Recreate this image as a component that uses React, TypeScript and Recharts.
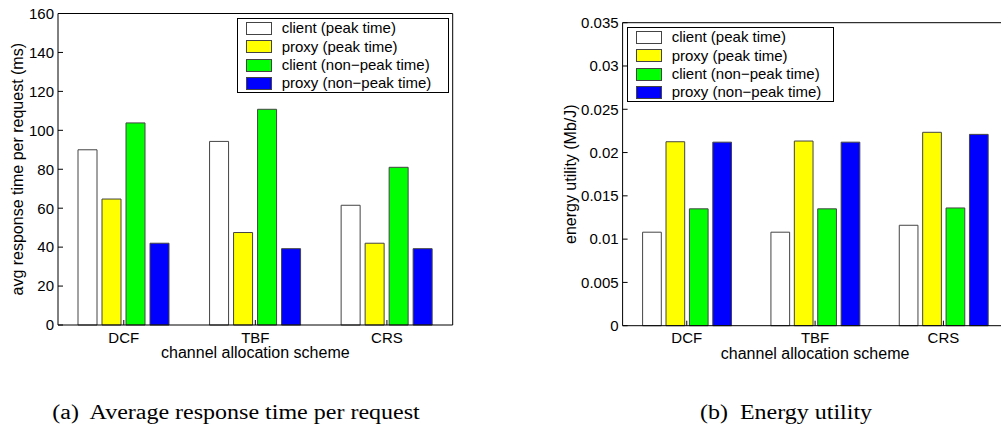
import { BarChart, Bar, XAxis, YAxis, Legend } from 'recharts'

const schemes = ['DCF', 'TBF', 'CRS']
const seriesNames = [
  'client (peak time)',
  'proxy (peak time)',
  'client (non\u2212peak time)',
  'proxy (non\u2212peak time)',
]
const seriesColors = ['#ffffff', '#ffff00', '#00ff00', '#0000ff']
const seriesKeys = ['clientPeak', 'proxyPeak', 'clientNonPeak', 'proxyNonPeak']

// (a) avg response time per request (ms)
const respClientPeak = [90, 94.3, 61.5]
const respProxyPeak = [64.7, 47.5, 42]
const respClientNonPeak = [103.8, 110.8, 81]
const respProxyNonPeak = [42, 39.2, 39.2]
const respTicks = [0, 20, 40, 60, 80, 100, 120, 140, 160]

// (b) energy utility (Mb/J)
const energyClientPeak = [0.0108, 0.0108, 0.0116]
const energyProxyPeak = [0.02125, 0.02133, 0.02234]
const energyClientNonPeak = [0.0135, 0.0135, 0.0136]
const energyProxyNonPeak = [0.0212, 0.0212, 0.0221]
const energyTicks = [0, 0.005, 0.01, 0.015, 0.02, 0.025, 0.03, 0.035]

const font = '"Liberation Sans", Arial, sans-serif'

function buildRows(values: number[][]) {
  return schemes.map((scheme, i) => {
    const row: Record<string, string | number> = { scheme }
    seriesKeys.forEach((k, j) => {
      row[k] = values[j][i]
    })
    return row
  })
}

const respData = buildRows([respClientPeak, respProxyPeak, respClientNonPeak, respProxyNonPeak])
const energyData = buildRows([energyClientPeak, energyProxyPeak, energyClientNonPeak, energyProxyNonPeak])

function LegendBox({ width }: { width: number }) {
  return (
    <div
      style={{
        width,
        height: 75,
        boxSizing: 'border-box',
        border: '1px solid #000',
        background: '#fff',
        fontFamily: font,
        fontSize: 15,
        color: '#000',
      }}
    >
      {seriesNames.map((name, i) => (
        <div key={name} style={{ display: 'flex', alignItems: 'center', height: 18.3 }}>
          <span
            style={{
              display: 'inline-block',
              width: 26,
              height: 13,
              marginLeft: 8,
              marginRight: 10,
              background: seriesColors[i],
              border: '1px solid #444',
              boxSizing: 'border-box',
            }}
          />
          <span style={{ whiteSpace: 'nowrap', lineHeight: '18px' }}>{name}</span>
        </div>
      ))}
    </div>
  )
}

interface PanelProps {
  data: Record<string, string | number>[]
  ticks: number[]
  yLabel: string
  width: number
  margin: { top: number; right: number; bottom: number; left: number }
  yAxisWidth: number
  labelOffset: number
  barSize: number
  barGap: number
  legendLeft: number
  legendTop: number
  legendWidth: number
}

function Panel(p: PanelProps) {
  const max = p.ticks[p.ticks.length - 1]
  return (
    <BarChart
      width={p.width}
      height={424}
      data={p.data}
      margin={p.margin}
      barSize={p.barSize}
      barGap={p.barGap}
      style={{ fontFamily: font }}
    >
      <XAxis
        dataKey="scheme"
        height={22}
        stroke="#000"
        tickSize={-5}
        tickMargin={12}
        tick={{ fill: '#000', fontSize: 15 }}
        label={{ value: 'channel allocation scheme', position: 'bottom', offset: 0, fill: '#000', fontSize: 16 }}
      />
      <XAxis xAxisId="top" dataKey="scheme" orientation="top" height={1} stroke="#000" tickSize={-5} tick={false} />
      <YAxis
        type="number"
        domain={[0, max]}
        ticks={p.ticks}
        width={p.yAxisWidth}
        stroke="#000"
        tickSize={-5}
        tickMargin={9}
        interval={0}
        tick={{ fill: '#000', fontSize: 15 }}
        label={{
          value: p.yLabel,
          angle: -90,
          position: 'insideLeft',
          offset: p.labelOffset,
          fill: '#000',
          fontSize: 16,
          style: { textAnchor: 'middle' },
        }}
      />
      <YAxis
        yAxisId="right"
        orientation="right"
        type="number"
        domain={[0, max]}
        ticks={p.ticks}
        width={1}
        stroke="#000"
        tickSize={-5}
        tick={false}
      />
      <Legend
        layout="vertical"
        align="center"
        verticalAlign="middle"
        content={() => <LegendBox width={p.legendWidth} />}
        wrapperStyle={{ left: p.legendLeft, top: p.legendTop, width: p.legendWidth }}
      />
      {seriesKeys.map((k, i) => (
        <Bar
          key={k}
          dataKey={k}
          name={seriesNames[i]}
          fill={seriesColors[i]}
          stroke="#444"
          strokeWidth={1}
          isAnimationActive={false}
        />
      ))}
    </BarChart>
  )
}

const captionStyle = {
  position: 'absolute' as const,
  top: 411.7,
  transform: 'translate(-50%, -50%) scaleX(1.2)',
  fontFamily: '"Liberation Serif", "Times New Roman", serif',
  fontSize: 20,
  whiteSpace: 'nowrap' as const,
  color: '#000',
}

export default function App() {
  return (
    <div
      style={{
        position: 'absolute',
        left: 0,
        top: 0,
        width: 1001,
        height: 424,
        overflow: 'hidden',
        background: '#fff',
      }}
    >
      <div style={{ position: 'absolute', left: 0, top: 0 }}>
        <Panel
          data={respData}
          ticks={respTicks}
          yLabel="avg response time per request (ms)"
          width={480}
          margin={{ top: 12.5, right: 26.3, bottom: 77, left: 0 }}
          yAxisWidth={58}
          labelOffset={17}
          barSize={19}
          barGap={5}
          legendLeft={236.7}
          legendTop={18.3}
          legendWidth={212}
        />
      </div>
      <div style={{ position: 'absolute', left: 520, top: 0 }}>
        <Panel
          data={energyData}
          ticks={energyTicks}
          yLabel="energy utility (Mb/J)"
          width={500}
          margin={{ top: 21.7, right: 11.4, bottom: 76.3, left: 0 }}
          yAxisWidth={102.6}
          labelOffset={50}
          barSize={18.7}
          barGap={4.7}
          legendLeft={106.7}
          legendTop={27.3}
          legendWidth={207}
        />
      </div>
      <div style={{ ...captionStyle, left: 235.5 }}>(a)&nbsp; Average response time per request</div>
      <div style={{ ...captionStyle, left: 785.5 }}>(b)&nbsp; Energy utility</div>
    </div>
  )
}
